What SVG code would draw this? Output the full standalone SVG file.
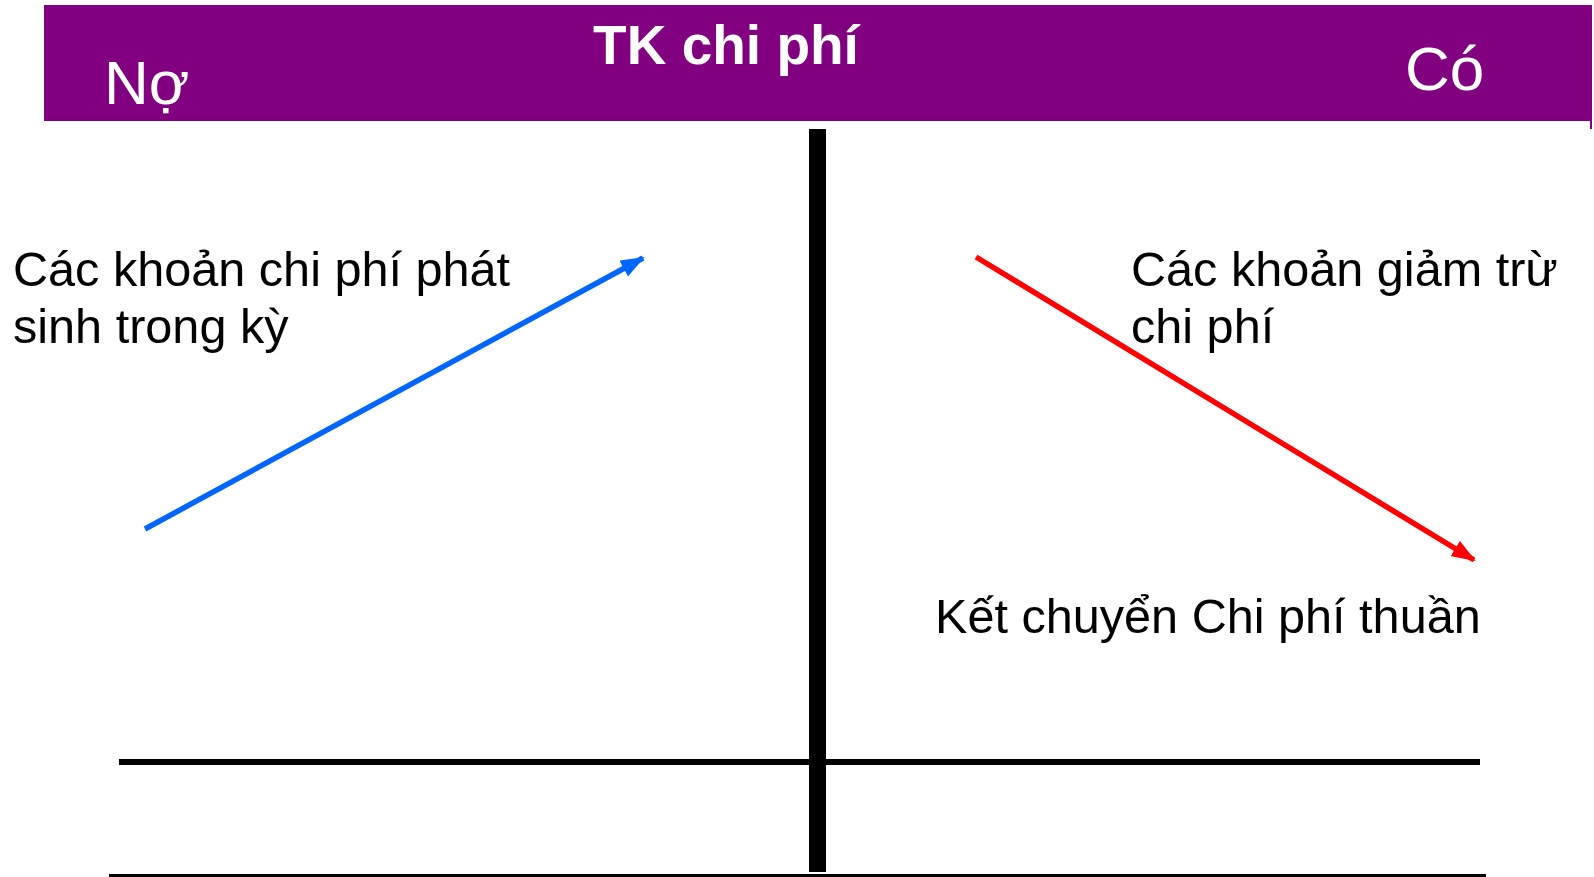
<svg xmlns="http://www.w3.org/2000/svg" width="1594" height="877" viewBox="0 0 1594 877">
  <style>
    .hdr { fill: #800080; }
    .title { font-family: "Liberation Sans", Arial, sans-serif; font-weight: bold; font-size: 55px; fill: #ffffff; }
    .side { font-family: "Liberation Sans", Arial, sans-serif; font-size: 62px; fill: #ffffff; }
    .lbl { font-family: "Liberation Sans", Arial, sans-serif; font-size: 48.6px; fill: #000000; }
    .rule { stroke: #000000; fill: none; }
  </style>
  <defs>
    <marker id="headBlue" markerUnits="userSpaceOnUse" markerWidth="24" markerHeight="18" refX="22" refY="9" orient="auto">
      <path d="M0,0 L24,9 L0,18 Z" fill="#0066ff"/>
    </marker>
    <marker id="headRed" markerUnits="userSpaceOnUse" markerWidth="24" markerHeight="18" refX="22" refY="9" orient="auto">
      <path d="M0,0 L24,9 L0,18 Z" fill="#ff0000"/>
    </marker>
  </defs>

  <rect width="1594" height="877" fill="#ffffff"/>

  <!-- account header bar -->
  <g id="header">
    <rect class="hdr" x="44" y="5" width="1548" height="116"/>
    <line x1="1591" y1="5" x2="1591" y2="129" stroke="#800080" stroke-width="2"/>
    <text class="title" x="726" y="64" text-anchor="middle">TK chi phí</text>
    <text class="side" x="104" y="104">Nợ</text>
    <text class="side" x="1405" y="90">Có</text>
  </g>

  <!-- T-account rules -->
  <g id="t-account">
    <rect x="809" y="129" width="17" height="743" fill="#000000"/>
    <line class="rule" x1="119" y1="762" x2="1480" y2="762" stroke-width="6"/>
    <line class="rule" x1="109" y1="875.5" x2="1486" y2="875.5" stroke-width="3"/>
  </g>

  <!-- debit side label -->
  <g id="debit-label">
    <text class="lbl" x="13" y="286">Các khoản chi phí phát</text>
    <text class="lbl" x="13" y="343">sinh trong kỳ</text>
  </g>

  <!-- credit side labels -->
  <g id="credit-label">
    <text class="lbl" x="1131" y="286">Các khoản giảm trừ</text>
    <text class="lbl" x="1131" y="343">chi phí</text>
  </g>
  <g id="closing-label">
    <text class="lbl" x="935" y="633">Kết chuyển Chi phí thuần</text>
  </g>

  <!-- flow arrows -->
  <g id="connectors">
    <line x1="145" y1="529" x2="643" y2="258" stroke="#0066ff" stroke-width="5.5" marker-end="url(#headBlue)"/>
    <line x1="976" y1="257" x2="1474" y2="560" stroke="#ff0000" stroke-width="5.5" marker-end="url(#headRed)"/>
  </g>
</svg>
